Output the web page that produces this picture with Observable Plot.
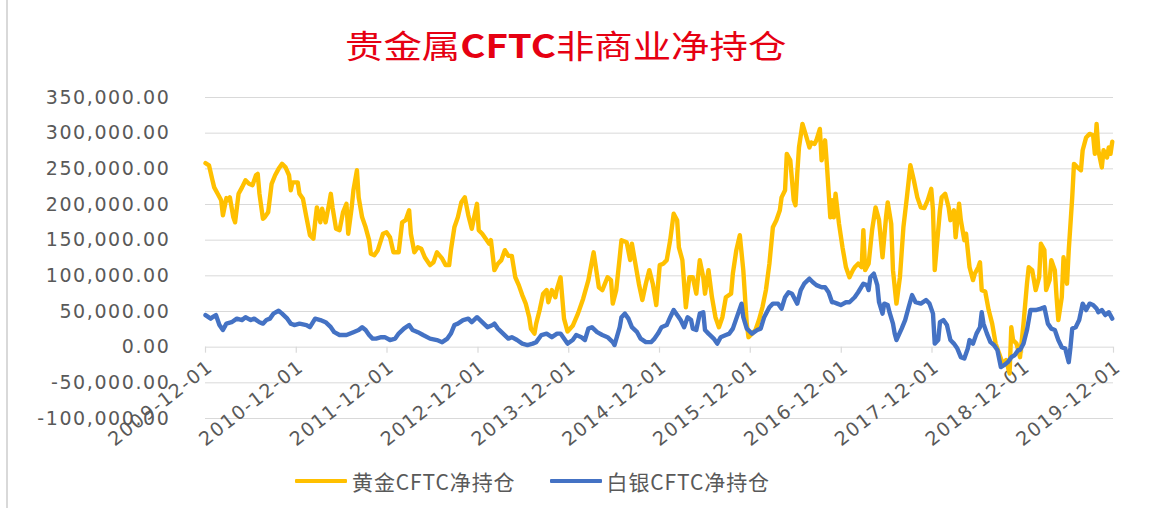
<!DOCTYPE html>
<html><head><meta charset="utf-8">
<script src="https://cdn.jsdelivr.net/npm/d3@7"></script>
<script src="https://cdn.jsdelivr.net/npm/@observablehq/plot@0.6"></script>
<style>
body{margin:0;background:#fff;}
#wrap{position:relative;width:1170px;height:508px;overflow:hidden;background:#fff;}
#frame{position:absolute;left:6px;top:0;width:0;height:508px;border-left:2px solid #d9d9d9;}
#title{position:absolute;left:345px;top:24px;line-height:40px;font-size:32px;color:#e60012;font-family:"Noto Sans CJK SC","Noto Sans",sans-serif;white-space:nowrap;transform:scaleX(1.2);transform-origin:left center;}
#title b{font-weight:700;}
#chart{position:absolute;left:0;top:80px;}
#chart svg text{letter-spacing:1.6px;}
#legend{position:absolute;left:295px;top:466px;display:flex;align-items:center;font-family:"Noto Sans CJK SC","Noto Sans",sans-serif;font-size:21px;color:#595959;white-space:nowrap;letter-spacing:0.9px;}
.sw{display:inline-block;width:52px;height:4px;margin-right:5px;border-radius:1px;}
.item{display:flex;align-items:center;margin-right:34px;line-height:30px;}
</style></head><body><div id="wrap">
<div id="frame"></div>
<div id="title">贵金属<b>CFTC</b>非商业净持仓</div>
<div id="chart"></div>
<div id="legend"></div>
</div>
<script>
// ---- data (weekly observations, week index from 2009-12-01) ----
const seriesNames = ["黄金CFTC净持仓", "白银CFTC净持仓"];
const seriesColors = ["#FFC000", "#4472C4"];
const startDate = "2009-12-01";
const tickLabels = ["2009-12-01","2010-12-01","2011-12-01","2012-12-01","2013-12-01","2014-12-01","2015-12-01","2016-12-01","2017-12-01","2018-12-01","2019-12-01"];
const yTicks = [-100000,-50000,0,50000,100000,150000,200000,250000,300000,350000];

const goldWeek = [0,2,4,5,7,9,10,12,13,14,16,17,19,21,23,25,27,29,30,31,33,34,36,38,40,42,44,46,48,49,50,53,54,56,58,60,62,63,64,66,67,69,71,72,73,75,77,79,81,82,84,85,87,88,90,92,94,95,97,99,102,104,106,108,111,113,115,117,118,120,122,124,126,129,131,133,136,138,140,141,143,145,147,149,151,153,154,156,157,159,161,163,164,166,168,170,172,174,176,178,180,182,184,186,187,189,190,192,194,196,197,199,201,202,204,206,208,211,214,217,220,223,224,226,228,231,233,234,236,238,239,242,244,245,247,249,251,253,255,257,259,261,263,265,267,269,271,272,274,276,278,280,282,284,286,287,289,291,293,295,297,299,302,303,305,307,309,311,312,314,316,318,320,322,324,326,328,330,331,333,334,336,338,339,340,341,343,345,347,348,350,351,353,354,356,357,359,360,361,362,364,366,368,370,372,373,375,377,378,379,381,383,385,387,389,391,392,394,395,397,399,401,403,405,407,409,411,413,415,417,418,419,420,422,423,425,427,428,430,431,433,434,436,437,439,441,442,444,445,446,448,450,452,454,456,458,460,462,463,464,466,468,470,472,473,475,477,479,480,482,483,485,486,488,489,490,492,493,495,496,498,499,501,503,504,506,508,510,511,512,513,515,516,518,519,520,521];
const goldValue = [258000,255000,234000,224000,215000,206000,185000,209000,206000,210000,182000,175000,215000,224000,234000,229000,227000,241000,243000,215000,180000,182000,189000,229000,241000,250000,257000,252000,241000,220000,231000,231000,215000,208000,182000,157000,152000,175000,196000,175000,194000,175000,201000,215000,196000,166000,164000,189000,201000,159000,196000,220000,248000,210000,182000,168000,150000,131000,129000,136000,159000,161000,154000,133000,133000,175000,178000,192000,159000,133000,140000,138000,126000,115000,119000,133000,124000,115000,115000,136000,168000,182000,203000,210000,185000,166000,178000,201000,164000,159000,152000,145000,150000,108000,117000,122000,136000,128000,128000,98000,87000,73000,61000,42000,26000,19000,33000,52000,75000,80000,63000,80000,70000,82000,98000,40000,22000,30000,47000,68000,94000,133000,117000,84000,80000,98000,94000,61000,80000,126000,150000,147000,122000,145000,117000,89000,66000,89000,108000,89000,59000,115000,117000,122000,150000,187000,178000,140000,122000,56000,98000,98000,75000,122000,98000,75000,108000,70000,42000,28000,42000,70000,75000,103000,136000,157000,108000,33000,14000,19000,24000,38000,56000,80000,117000,168000,178000,192000,210000,220000,271000,262000,206000,199000,243000,280000,313000,297000,280000,287000,285000,290000,306000,262000,290000,257000,182000,206000,182000,215000,173000,140000,112000,98000,108000,112000,117000,112000,164000,108000,117000,164000,196000,178000,126000,182000,203000,173000,108000,61000,98000,168000,210000,255000,234000,210000,196000,195000,206000,222000,192000,108000,136000,192000,210000,215000,196000,178000,192000,154000,201000,178000,150000,159000,112000,94000,103000,112000,119000,80000,78000,52000,33000,5000,-9000,-23000,-18000,-37000,28000,10000,5000,-14000,33000,89000,112000,108000,80000,98000,145000,136000,80000,94000,122000,108000,70000,38000,70000,126000,89000,136000,210000,257000,252000,248000,276000,294000,299000,297000,271000,313000,276000,252000,276000,266000,280000,271000,288000];

const silverWeek = [0,3,4,6,8,10,12,15,18,21,23,26,28,31,33,35,37,39,42,44,47,49,51,54,58,60,63,66,69,72,74,77,81,85,88,90,92,94,96,98,101,103,106,109,111,114,117,119,122,125,129,133,136,139,141,143,145,148,151,153,156,159,162,165,166,168,171,174,176,179,182,185,188,190,193,196,199,202,204,206,208,211,213,216,218,220,222,225,228,231,234,235,238,239,241,243,245,248,250,253,256,258,260,262,265,267,269,271,273,275,277,279,280,282,284,286,287,289,292,294,296,299,301,303,306,308,309,311,314,317,319,321,324,326,329,331,333,335,337,340,342,344,347,349,351,354,356,358,360,361,363,365,368,370,373,375,378,380,381,382,384,386,387,389,390,392,393,395,396,397,400,402,404,406,408,411,414,416,418,419,421,422,424,426,428,430,432,434,436,438,439,441,443,445,446,447,449,451,453,455,457,459,461,463,465,467,468,470,472,474,477,480,482,484,486,488,490,492,494,496,497,498,500,502,504,506,508,510,512,513,515,517,519,521];
const silverValue = [45000,40000,42000,45000,31000,24000,33000,35000,40000,38000,42000,38000,40000,35000,33000,38000,40000,47000,51000,47000,40000,33000,31000,33000,31000,28000,40000,38000,35000,28000,21000,17000,17000,21000,24000,28000,24000,17000,12000,12000,14000,14000,10000,12000,19000,26000,31000,24000,21000,17000,12000,10000,7000,12000,19000,31000,33000,38000,40000,35000,42000,35000,28000,31000,33000,26000,19000,12000,14000,10000,5000,3000,5000,7000,17000,19000,14000,19000,19000,12000,5000,10000,17000,14000,10000,26000,28000,21000,17000,14000,7000,3000,28000,42000,47000,40000,28000,21000,12000,7000,7000,12000,19000,28000,31000,42000,52000,45000,38000,28000,42000,38000,26000,24000,47000,49000,24000,19000,12000,5000,14000,17000,19000,26000,47000,61000,42000,26000,19000,24000,26000,42000,56000,61000,61000,54000,70000,77000,75000,61000,80000,89000,96000,91000,87000,84000,84000,77000,63000,63000,61000,59000,63000,63000,70000,77000,89000,87000,80000,98000,103000,87000,63000,47000,61000,59000,49000,33000,19000,10000,26000,38000,56000,73000,63000,61000,66000,61000,47000,5000,10000,35000,38000,31000,10000,5000,-2000,-14000,-16000,-2000,10000,5000,19000,28000,49000,33000,19000,7000,3000,-4000,-28000,-25000,-21000,-14000,-11000,-4000,-4000,5000,24000,52000,52000,54000,56000,33000,26000,24000,10000,0,-2000,-21000,0,26000,28000,38000,61000,52000,61000,59000,54000,49000,52000,45000,49000,40000];

// ---- build ----
const t0 = new Date(startDate + "T00:00:00Z");
const weekToDate = w => new Date(t0.getTime() + w * 7 * 864e5);
const rows = [];
goldWeek.forEach((w, i) => rows.push({series: seriesNames[0], date: weekToDate(w), value: goldValue[i]}));
silverWeek.forEach((w, i) => rows.push({series: seriesNames[1], date: weekToDate(w), value: silverValue[i]}));
const tickDates = tickLabels.map(s => ({label: s, date: new Date(s + "T00:00:00Z")}));
const fmt = d => d3.format(",.2f")(d).replace("\u2212", "-");
const font = "'DejaVu Sans', Verdana, sans-serif";

const chart = Plot.plot({
  width: 1170, height: 380,
  marginLeft: 205, marginRight: 57, marginTop: 17, marginBottom: 42,
  x: {type: "utc", domain: [tickDates[0].date, tickDates[tickDates.length - 1].date], axis: null},
  y: {domain: [yTicks[0], yTicks[yTicks.length - 1]]},
  style: {fontFamily: font, fontSize: "19px", color: "#595959", background: "transparent", overflow: "visible"},
  marks: [
    Plot.ruleY(yTicks, {stroke: "#d9d9d9", strokeWidth: 1, strokeOpacity: 1}),
    Plot.axisY({ticks: yTicks, tickSize: 0, tickPadding: 35, tickFormat: fmt, fontSize: 19, fill: "#595959", label: null}),
    Plot.ruleX(tickDates, {x: "date", y1: () => 0, y2: () => 0, insetBottom: -6, stroke: "#d9d9d9", strokeWidth: 1.2}),
    Plot.text(tickDates, {x: "date", y: () => 0, text: "label", rotate: -38, textAnchor: "end", lineAnchor: "middle", dx: 5, dy: 17, fontSize: 19, fill: "#595959"}),
    Plot.line(rows.filter(r => r.series === seriesNames[0]), {x: "date", y: "value", stroke: seriesColors[0], strokeWidth: 4.4, strokeLinejoin: "round", strokeLinecap: "round"}),
    Plot.line(rows.filter(r => r.series === seriesNames[1]), {x: "date", y: "value", stroke: seriesColors[1], strokeWidth: 4.4, strokeLinejoin: "round", strokeLinecap: "round"})
  ]
});
document.getElementById("chart").appendChild(chart);

const legend = document.getElementById("legend");
seriesNames.forEach((n, i) => {
  const it = document.createElement("div");
  it.className = "item";
  it.innerHTML = `<span class="sw" style="background:${seriesColors[i]}"></span><span>${n}</span>`;
  legend.appendChild(it);
});
</script>
</body></html>
